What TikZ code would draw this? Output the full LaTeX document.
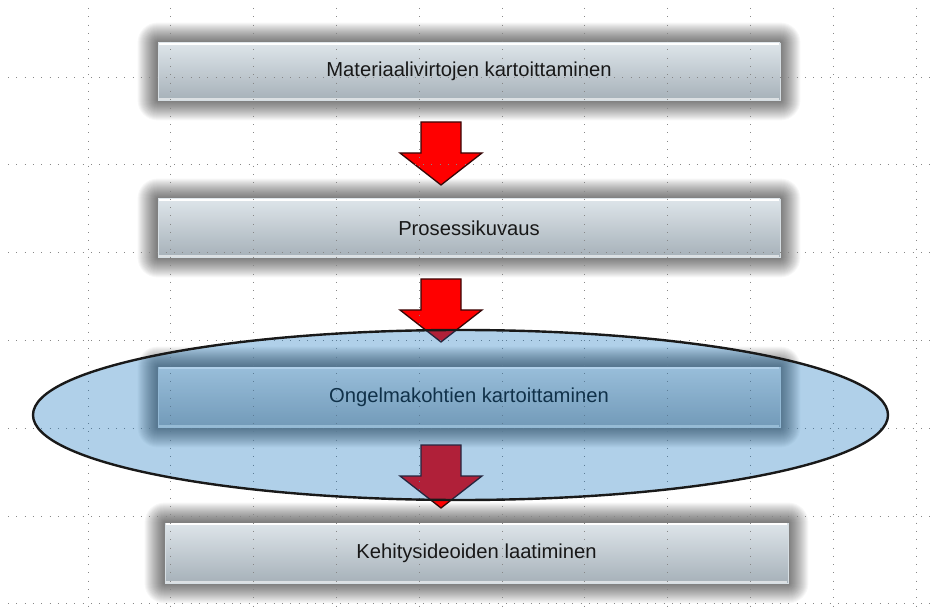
\documentclass[tikz,border=0pt]{standalone}
\usepackage{fontspec}
\setmainfont{Liberation Sans}
\usetikzlibrary{calc}

\pgfdeclarelayer{paper}
\pgfdeclarelayer{glow}
\pgfsetlayers{paper,glow,main}

\definecolor{boxtop}{RGB}{222,229,234}
\definecolor{boxbot}{RGB}{166,177,185}
\definecolor{boxedge}{RGB}{214,222,227}
\definecolor{arrowred}{RGB}{255,0,0}
\definecolor{arrowline}{RGB}{55,8,8}
\definecolor{lens}{RGB}{0,105,185}
\definecolor{lensline}{RGB}{25,25,25}
\definecolor{gridgray}{RGB}{135,135,135}
\definecolor{label}{RGB}{24,24,24}

\tikzset{
  stepbox/.style={rectangle, inner sep=0pt, top color=boxtop, bottom color=boxbot,
    draw=boxedge, line width=0.8pt, font=\fontsize{20.2}{24}\selectfont, text=label},
  blockarrow/.pic={
    \draw[fill=arrowred, draw=arrowline, line width=1.3pt, line join=miter]
      (-20,0) -- (20,0) -- (20,31) -- (41,31) -- (0,63) -- (-41,31) -- (-20,31) -- cycle;
  },
  gridline/.style={gridgray, line width=0.9pt, dash pattern=on 0.9pt off 7.4pt},
  lensstyle/.style={fill=lens, fill opacity=0.31, draw=lensline, draw opacity=1, line width=2.4pt},
}

\begin{document}
\begin{tikzpicture}[x=1pt,y=-1pt]
\useasboundingbox (0,0) rectangle (937,612);
\begin{pgfonlayer}{paper}
  \fill[white] (0,0) rectangle (937,612);
\end{pgfonlayer}

% process steps
\node[stepbox, minimum width=622pt, minimum height=57pt] (b1) at (469,71.5) {Materiaalivirtojen kartoittaminen};
\node[stepbox, minimum width=622pt, minimum height=58pt] (b2) at (469,228) {Prosessikuvaus};
\node[stepbox, minimum width=622pt, minimum height=60pt] (b3) at (469,397) {Ongelmakohtien kartoittaminen};
\node[stepbox, minimum width=623pt, minimum height=60pt] (b4) at (476.5,553) {Kehitysideoiden laatiminen};

% bevel highlights and soft dark glow around each step
\foreach \n in {b1,b2,b3,b4}{
  \draw[white, line width=1.6pt] ([xshift=1pt,yshift=-1.4pt]\n.north west) -- ([xshift=-1pt,yshift=-1.4pt]\n.north east);
  \draw[white, opacity=0.6, line width=1.2pt] ([xshift=1pt,yshift=1.4pt]\n.south west) -- ([xshift=-1pt,yshift=1.4pt]\n.south east);
}
\begin{pgfonlayer}{glow}
  \foreach \n in {b1,b2,b3,b4}{
    \foreach \i in {1,...,20}{
      \fill[black, opacity=0.032, rounded corners=\i pt]
        ([shift={(-\i pt,-\i pt)}]\n.south west) rectangle ([shift={(\i pt,\i pt)}]\n.north east);
    }
  }
\end{pgfonlayer}

% block arrows between the steps
\pic at (441,122) {blockarrow};
\pic at (441,279) {blockarrow};
\pic at (441,445) {blockarrow};

% dotted guide grid
\foreach \y in {77,164.8,252.6,340.4,428.2,516,603.8}
  \draw[gridline] (8,\y) -- (937,\y);
\foreach \x in {88,170.8,253.6,336.4,419.2,502,584.8,667.6,750.4,833.2,916}
  \draw[gridline] (\x,8) -- (\x,612);

% translucent highlight over the third step
\draw[lensstyle] (460.5,415) ellipse [x radius=427.5, y radius=85];
\end{tikzpicture}
\end{document}
